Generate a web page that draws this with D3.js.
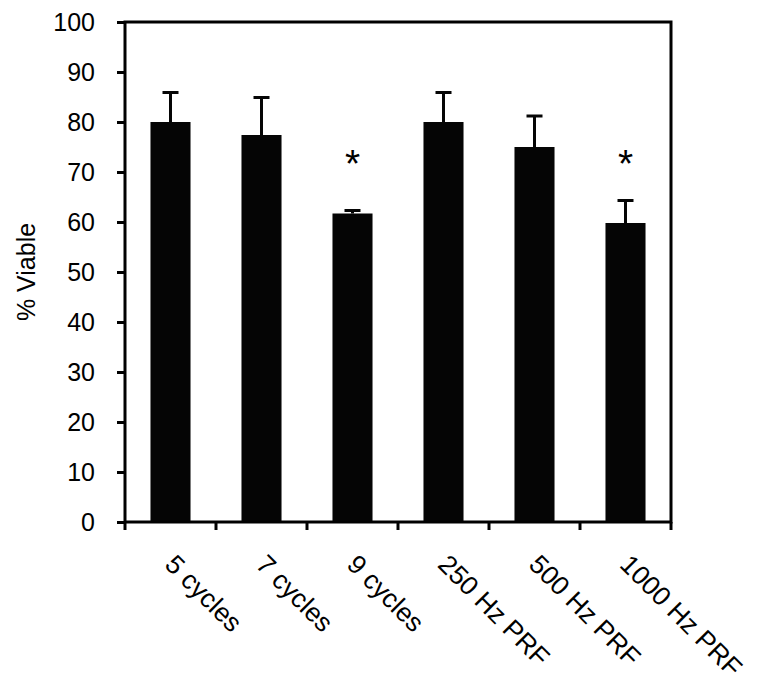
<!DOCTYPE html>
<html>
  <head>
    <style>
      body { margin: 0; background: #fff; }
      text { font-family: "Liberation Sans", Arial, sans-serif; }
    </style>
  </head>
  <body>
    <script src="https://d3js.org/d3.v7.min.js"></script>
    <script>
      // data
      var categories = ["5 cycles", "7 cycles", "9 cycles", "250 Hz PRF", "500 Hz PRF", "1000 Hz PRF"];
      var viable = [80.0, 77.4, 61.7, 80.0, 75.0, 59.8];
      var errors = [5.9, 7.5, 0.6, 5.9, 6.2, 4.5];
      var starred = [false, false, true, false, false, true];
      var yTicks = [0, 10, 20, 30, 40, 50, 60, 70, 80, 90, 100];

      var width = 764, height = 695;
      var pLeft = 125, pRight = 671, pTop = 22, pBottom = 522;

      var svg = d3.select("body").append("svg")
        .attr("width", width)
        .attr("height", height);

      var x = d3.scaleBand().domain(categories).range([pLeft, pRight]).paddingInner(0.56).paddingOuter(0.28);
      var xt = d3.scaleBand().domain(categories).range([pLeft, pRight]);
      var y = d3.scaleLinear().domain([0, 100]).range([pBottom, pTop]);

      // bars
      svg.selectAll("rect.bar")
        .data(categories)
        .enter().append("rect")
        .attr("class", "bar")
        .attr("x", function(d){ return x(d); })
        .attr("width", x.bandwidth())
        .attr("y", function(d, i){ return y(viable[i]); })
        .attr("height", function(d, i){ return y(0) - y(viable[i]); })
        .attr("fill", "#050505");

      // error bars
      var eb = svg.selectAll("g.err")
        .data(categories)
        .enter().append("g")
        .attr("class", "err");
      eb.append("line")
        .attr("x1", function(d){ return x(d) + x.bandwidth()/2; })
        .attr("x2", function(d){ return x(d) + x.bandwidth()/2; })
        .attr("y1", function(d, i){ return y(viable[i]); })
        .attr("y2", function(d, i){ return y(viable[i] + errors[i]); })
        .attr("stroke", "#050505").attr("stroke-width", 3);
      eb.append("line")
        .attr("x1", function(d){ return x(d) + x.bandwidth()/2 - 8; })
        .attr("x2", function(d){ return x(d) + x.bandwidth()/2 + 8; })
        .attr("y1", function(d, i){ return y(viable[i] + errors[i]); })
        .attr("y2", function(d, i){ return y(viable[i] + errors[i]); })
        .attr("stroke", "#050505").attr("stroke-width", 3);

      // asterisks
      svg.selectAll("text.star")
        .data(categories.filter(function(d, i){ return starred[i]; }))
        .enter().append("text")
        .attr("class", "star")
        .attr("x", function(d){ return x(d) + x.bandwidth()/2; })
        .attr("y", y(69))
        .attr("text-anchor", "middle")
        .style("font-size", "39px")
        .text("*");

      // y axis
      var yAxis = svg.append("g")
        .attr("transform", "translate(" + pLeft + ",0)")
        .call(d3.axisLeft(y).tickValues(yTicks).tickSize(8).tickPadding(22));
      yAxis.selectAll("line").attr("stroke", "#000").attr("stroke-width", 3);
      yAxis.select(".domain").remove();
      yAxis.selectAll("text").style("font-size", "25px").attr("fill", "#000")
        .style("font-family", "'Liberation Sans', Arial, sans-serif");

      // x axis ticks at band edges
      svg.selectAll("line.xtick")
        .data(categories.concat(["end"]))
        .enter().append("line")
        .attr("class", "xtick")
        .attr("x1", function(d, i){ return i < categories.length ? xt(d) : pRight; })
        .attr("x2", function(d, i){ return i < categories.length ? xt(d) : pRight; })
        .attr("y1", pBottom).attr("y2", pBottom + 8)
        .attr("stroke", "#000").attr("stroke-width", 3);

      svg.selectAll("text.xlab")
        .data(categories)
        .enter().append("text")
        .attr("class", "xlab")
        .attr("transform", function(d){
          return "translate(" + (xt(d) + xt.bandwidth()/2 - 7) + "," + (pBottom + 44) + ") rotate(45)";
        })
        .attr("text-anchor", "start")
        .style("font-size", "26.5px")
        .text(function(d){ return d; });

      // frame
      svg.append("path")
        .attr("d", "M" + pLeft + "," + pBottom + "V" + pTop + "H" + pRight + "V" + pBottom + "H" + pLeft)
        .attr("fill", "none")
        .attr("stroke", "#000")
        .attr("stroke-width", 3)
        .attr("stroke-linecap", "square");

      // y label
      svg.append("text")
        .attr("transform", "translate(35," + ((pTop + pBottom)/2) + ") rotate(-90)")
        .attr("text-anchor", "middle")
        .style("font-size", "25px")
        .text("% Viable");
    </script>
  </body>
</html>
